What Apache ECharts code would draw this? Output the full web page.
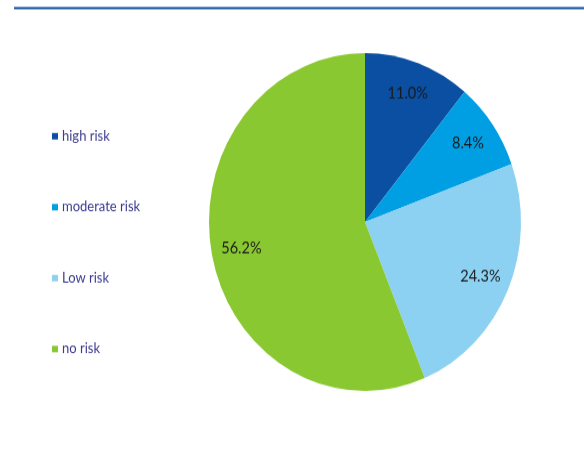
<!DOCTYPE html>
<html>
<head>
<meta charset="utf-8">
<script src="https://cdn.jsdelivr.net/npm/echarts@6/dist/echarts.min.js"></script>
<style>
html,body{margin:0;padding:0;background:#fff;overflow:hidden;}
#wrap{width:584px;height:463px;position:relative;overflow:hidden;}
#chart{width:584px;height:463px;transform:scaleY(1.083);transform-origin:0 222px;}
</style>
</head>
<body>
<div id="wrap"><div id="chart"></div></div>
<script>
var categories = ['high risk', 'moderate risk', 'Low risk', 'no risk'];
var values = [11.0, 8.4, 24.3, 56.2];
var colors = ['#0a4fa1', '#009ee2', '#8cd1f2', '#8ac831'];

var chart = echarts.init(document.getElementById('chart'), null, {renderer: 'canvas'});
var data = categories.map(function (c, i) {
  return {name: c, value: values[i], itemStyle: {color: colors[i]}};
});
var FONT = 'Lato, "Open Sans", sans-serif';
chart.setOption({
  animation: false,
  color: colors,
  legend: {
    orient: 'vertical',
    left: 47,
    top: 130.8,
    itemWidth: 6,
    itemHeight: 6,
    itemGap: 51.5,
    icon: 'rect',
    selectedMode: false,
    textStyle: {color: '#3b3a90', fontSize: 13, fontFamily: FONT, lineHeight: 14, padding: [0, 0, 0, -1]},
    data: categories
  },
  graphic: [{
    type: 'rect',
    shape: {x: 14, y: 23.5, width: 570, height: 1.9},
    style: {fill: '#0b4f9c'},
    silent: true
  }],
  series: [{
    type: 'pie',
    center: [365, 222],
    radius: [0, 156],
    startAngle: 90,
    clockwise: true,
    silent: true,
    label: {show: false},
    labelLine: {show: false},
    itemStyle: {borderWidth: 0},
    data: data
  }, {
    type: 'pie',
    center: [365, 222],
    radius: [90, 156],
    startAngle: 90,
    clockwise: true,
    silent: true,
    itemStyle: {color: 'rgba(0,0,0,0)', borderWidth: 0},
    label: {
      show: true,
      position: 'inside',
      formatter: function (p) { return p.value.toFixed(1) + '%'; },
      color: '#1a1a1a',
      fontSize: 14.5,
      fontFamily: FONT
    },
    labelLine: {show: false},
    data: categories.map(function (c, i) { return {name: c, value: values[i]}; })
  }]
});
</script>
</body>
</html>
